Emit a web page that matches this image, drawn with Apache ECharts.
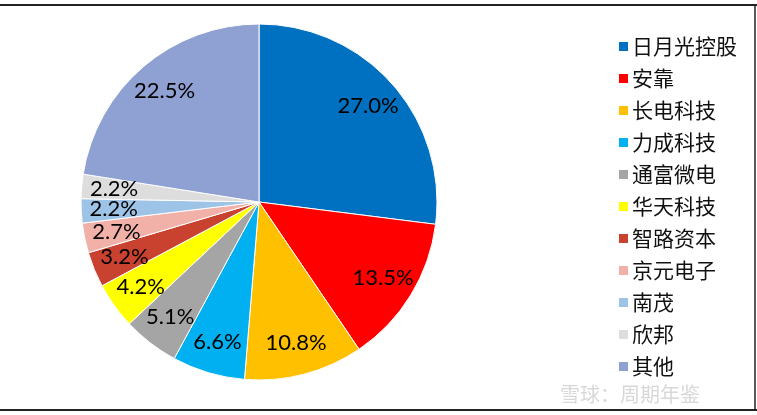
<!DOCTYPE html>
<html><head><meta charset="utf-8">
<script src="https://cdn.jsdelivr.net/npm/echarts@6/dist/echarts.min.js"></script>
<style>html,body{margin:0;padding:0;background:#fff}#c{width:757px;height:415px}</style>
</head><body><div id="c"></div>
<script>
var names = ['日月光控股','安靠','长电科技','力成科技','通富微电','华天科技','智路资本','京元电子','南茂','欣邦','其他'];
var values = [27.0, 13.5, 10.8, 6.6, 5.1, 4.2, 3.2, 2.7, 2.2, 2.2, 22.5];
var colors = ['#0070C0','#FF0000','#FFC000','#00B0F0','#A5A5A5','#FFFF00','#C9412F','#F2B1A8','#9DC3E6','#DDDDDD','#8FA0D2'];

var data = names.map(function(n,i){return {name:n, value:values[i], itemStyle:{color:colors[i]}};});
var chart = echarts.init(document.getElementById('c'));
chart.setOption({
  animation:false,
  backgroundColor:'#fff',
  legend:{
    orient:'vertical', left:612, top:31,
    itemWidth:11, itemHeight:11, itemGap:11, icon:'rect',
    textStyle:{fontFamily:'Noto Sans CJK SC', fontSize:21, color:'#111', padding:[0,0,0,-2]},
    data:names
  },
  series:[
    {type:'pie', center:[259,202], radius:[0,178], startAngle:90, clockwise:true,
     label:{show:false}, labelLine:{show:false}, legendHoverLink:false,
     itemStyle:{borderColor:'#fff', borderWidth:1},
     data:data},
    {type:'pie', center:[259,202], radius:[107,178], startAngle:90, clockwise:true, silent:true,
     avoidLabelOverlap:false,
     labelLayout:{hideOverlap:false},
     itemStyle:{color:'transparent', borderWidth:0},
     label:{show:true, position:'inside', formatter:function(p){return p.value.toFixed(1)+'%';},
            fontFamily:'Lato', fontSize:22, color:'#000'},
     labelLine:{show:false},
     data:names.map(function(n,i){return {name:n+' ', value:values[i]};})}
  ],
  graphic:[
    {type:'line', shape:{x1:0,y1:5,x2:757,y2:5}, style:{stroke:'#222', lineWidth:2}},
    {type:'line', shape:{x1:0,y1:410,x2:757,y2:410}, style:{stroke:'#222', lineWidth:2}},
    {type:'line', shape:{x1:755,y1:5,x2:755,y2:410}, style:{stroke:'#222', lineWidth:1.5}},
    {type:'text', left:560, top:384, style:{text:'雪球：周期年鉴', fontFamily:'Noto Sans CJK SC', fontSize:20, fill:'#d8d8d8'}}
  ]
});
</script></body></html>
